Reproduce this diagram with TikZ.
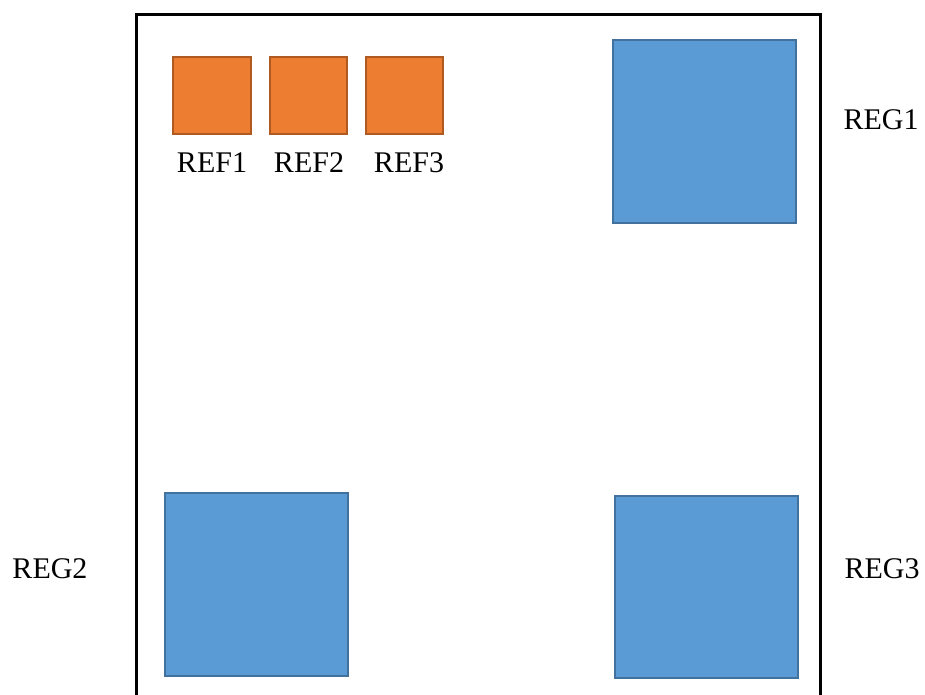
\documentclass[tikz,border=0pt]{standalone}
\usepackage{fontspec}
\setmainfont{Liberation Serif}
\definecolor{reffill}{HTML}{ED7D31}
\definecolor{refline}{HTML}{AE5A21}
\definecolor{regfill}{HTML}{5B9BD5}
\definecolor{regline}{HTML}{41719C}
\begin{document}
\begin{tikzpicture}[x=1pt,y=-1pt,
  refbox/.style={draw=refline,fill=reffill,line width=2pt},
  regbox/.style={draw=regline,fill=regfill,line width=2pt},
  lbl/.style={font=\fontsize{30}{33}\selectfont,anchor=base,inner sep=0pt},
  frame/.style={draw=black,line width=3pt}]
\useasboundingbox (0,0) rectangle (925,695);
% outer frame, open at the bottom
\draw[frame] (136,710) -- (136,14.5) -- (820,14.5) -- (820,710);
% reference squares
\draw[refbox] (173,57) rectangle (251,134);
\draw[refbox] (270,57) rectangle (347,134);
\draw[refbox] (366,57) rectangle (443,134);
\node[lbl] (ref1) at (212,172) {REF1};
\node[lbl] (ref2) at (309,172) {REF2};
\node[lbl] (ref3) at (409,172) {REF3};
% regions
\draw[regbox] (612.5,40) rectangle (796,222.5);
\draw[regbox] (164.5,493) rectangle (348,676);
\draw[regbox] (615,496) rectangle (798,678);
\node[lbl] (reg1) at (881,130) {REG1};
\node[lbl] (reg2) at (50,578) {REG2};
\node[lbl] (reg3) at (882,578) {REG3};
\end{tikzpicture}
\end{document}
